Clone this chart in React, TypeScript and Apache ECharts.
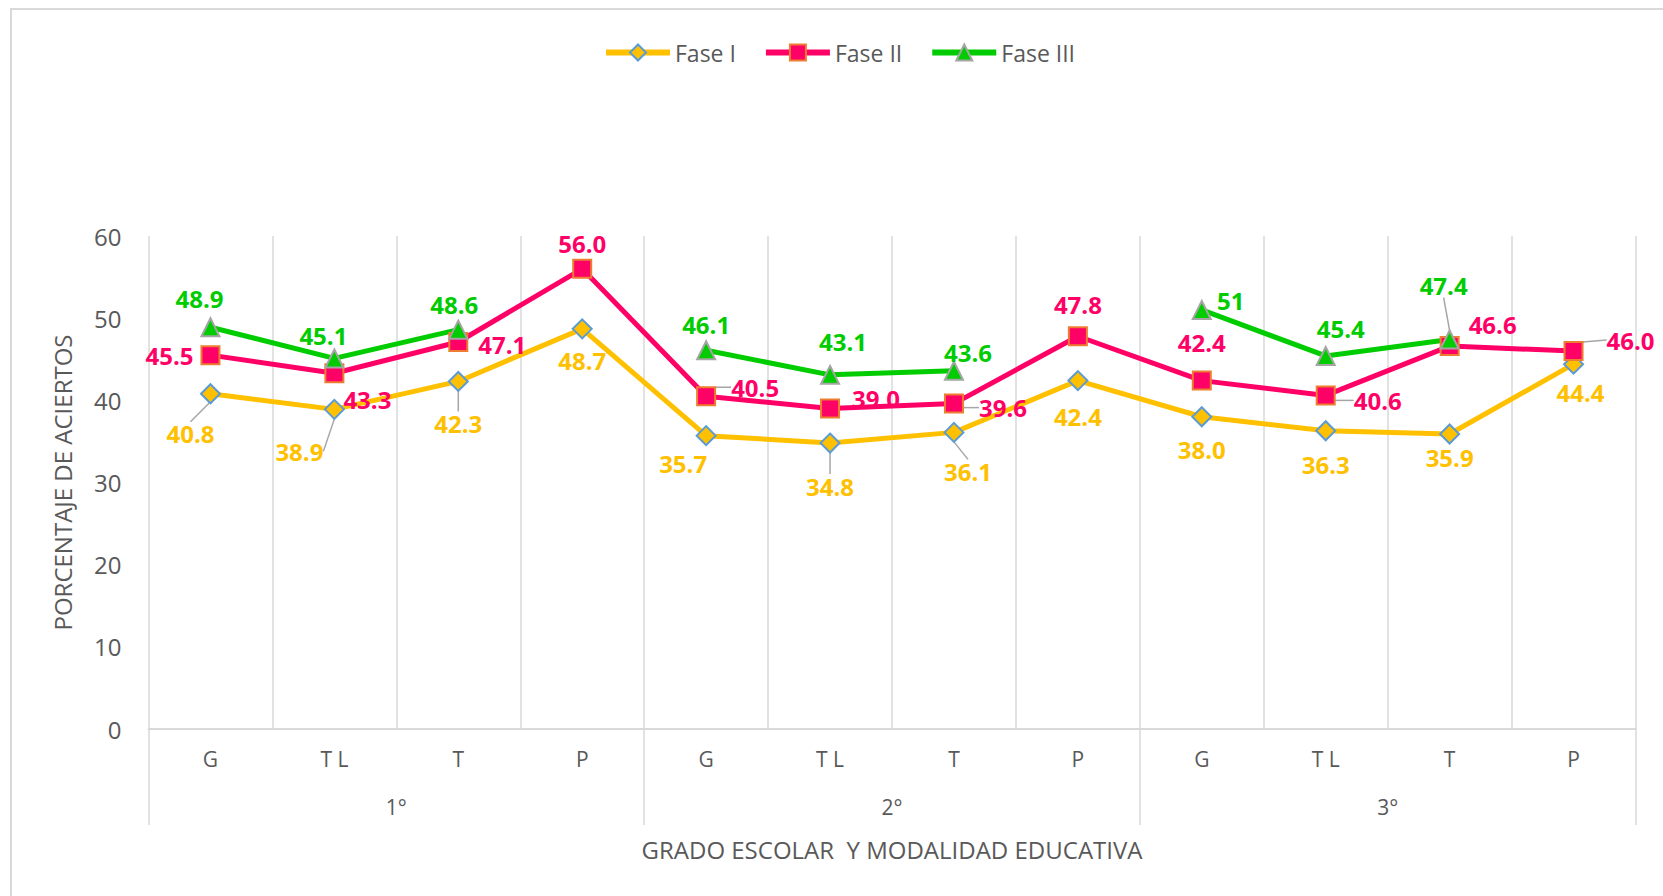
import React, { useEffect, useRef } from "react";
import * as echarts from "echarts";

const categories = ["G", "T L", "T", "P", "G", "T L", "T", "P", "G", "T L", "T", "P"];
const groups = ["1°", "2°", "3°"];
const faseI = [40.8, 38.9, 42.3, 48.7, 35.7, 34.8, 36.1, 42.4, 38.0, 36.3, 35.9, 44.4];
const faseII = [45.5, 43.3, 47.1, 56.0, 40.5, 39.0, 39.6, 47.8, 42.4, 40.6, 46.6, 46.0];
const faseIII = [48.9, 45.1, 48.6, null, 46.1, 43.1, 43.6, null, 51, 45.4, 47.4, null];
const yTicks = [0, 60, 10];

// label offsets (px) relative to point, and which labels show a leader line
const offI = [[-20, 40], [-35, 42], [0, 42], [0, 32], [-23, 28], [0, 43], [14, 39], [0, 36], [0, 33], [0, 34], [0, 23], [7, 28]];
const offII = [[-41, 0], [33, 26], [44, 3], [0, -25], [49, -9], [46, -10], [49, 4], [0, -32], [0, -38], [52, 5], [43, -22], [57, -11]];
const offIII = [[-11, -29], [-11, -23], [-4, -25], [0, 0], [0, -26], [13, -33], [14, -18], [0, 0], [29, -9], [15, -27], [-6, -54], [0, 0]];
const leadI = [0, 1, 2, 5, 6];
const leadII = [4, 6, 9, 11];
const leadIII = [10];

const FONT = "'Open Sans', 'Noto Sans', sans-serif";
const GRAY_TXT = "#595959";

export default function App() {
  const ref = useRef<HTMLDivElement>(null);
  useEffect(() => {
    const chart = echarts.init(ref.current!, undefined, { renderer: "svg" });
    const offsets = [offI, offII, offIII];
    const mkData = (vals: (number | null)[], lead: number[]) =>
      vals.map((v, i) => ({
        value: v,
        labelLine: { show: lead.includes(i) },
      }));
    const mkSeries = (
      name: string,
      vals: (number | null)[],
      lead: number[],
      color: string,
      symbol: string,
      symbolSize: number,
      border: string,
      fmt: (v: number) => string
    ) => ({
      name,
      type: "line",
      data: mkData(vals, lead),
      connectNulls: false,
      symbol,
      symbolSize,
      lineStyle: { color, width: 5 },
      itemStyle: { color, borderColor: border, borderWidth: 2 },
      label: {
        show: true,
        position: "inside",
        color,
        fontFamily: FONT,
        fontWeight: "bold",
        fontSize: 24,
        formatter: (p: any) => fmt(p.value),
      },
      labelLine: {
        show: false,
        lineStyle: { color: "#A6A6A6", width: 1.5 },
      },
      labelLayout: (p: any) => {
        const o = offsets[p.seriesIndex][p.dataIndex];
        return { dx: o[0], dy: o[1] };
      },
      emphasis: { disabled: true },
      z: 3,
    });
    chart.setOption({
      animation: false,
      backgroundColor: "#ffffff",
      graphic: [
        {
          type: "rect",
          shape: { x: 11, y: 9, width: 1700, height: 1000 },
          style: { fill: "none", stroke: "#D9D9D9", lineWidth: 2 },
          silent: true,
        },
      ],
      legend: {
        left: 598,
        top: 36,
        itemWidth: 64,
        itemHeight: 20,
        itemGap: 27,
        lineStyle: { width: 6 },
        textStyle: { color: GRAY_TXT, fontSize: 23, fontFamily: FONT },
        data: ["Fase I", "Fase II", "Fase III"],
      },
      grid: { left: 148.5, right: 27.5, top: 236, bottom: 167, containLabel: false },
      xAxis: [
        {
          type: "category",
          data: categories,
          boundaryGap: true,
          axisLine: { show: true, lineStyle: { color: "#D9D9D9", width: 2 } },
          axisTick: { show: false },
          splitLine: { show: true, lineStyle: { color: "#D9D9D9", width: 1.5 } },
          axisLabel: { color: GRAY_TXT, fontSize: 21, fontFamily: FONT, margin: 19 },
          name: "GRADO ESCOLAR  Y MODALIDAD EDUCATIVA",
          nameLocation: "middle",
          nameGap: 108,
          nameTextStyle: { color: GRAY_TXT, fontSize: 24, fontFamily: FONT },
        },
        {
          type: "category",
          data: groups,
          position: "bottom",
          boundaryGap: true,
          axisLine: { show: false },
          axisTick: { show: true, length: 96, lineStyle: { color: "#D9D9D9", width: 1.5 } },
          axisLabel: { color: GRAY_TXT, fontSize: 21, fontFamily: FONT, margin: 67 },
          splitLine: { show: false },
        },
      ],
      yAxis: {
        type: "value",
        min: yTicks[0],
        max: yTicks[1],
        interval: yTicks[2],
        axisLine: { show: false },
        axisTick: { show: false },
        splitLine: { show: false },
        axisLabel: { color: GRAY_TXT, fontSize: 24, fontFamily: FONT, margin: 27 },
        name: "PORCENTAJE DE ACIERTOS",
        nameLocation: "middle",
        nameGap: 74,
        nameTextStyle: { color: GRAY_TXT, fontSize: 24, fontFamily: FONT },
      },
      series: [
        mkSeries("Fase I", faseI, leadI, "#FFC000", "diamond", 19, "#5B9BD5", (v) => v.toFixed(1)),
        mkSeries("Fase II", faseII, leadII, "#FF0066", "rect", 18, "#ED7D31", (v) => v.toFixed(1)),
        mkSeries("Fase III", faseIII, leadIII, "#00CC00", "triangle", 18, "#A5A5A5", (v) => String(v)),
      ],
    });
    return () => chart.dispose();
  }, []);
  return (
    <div
      ref={ref}
      style={{ position: "fixed", left: 0, top: 0, width: 1663, height: 896, background: "#fff" }}
    />
  );
}
